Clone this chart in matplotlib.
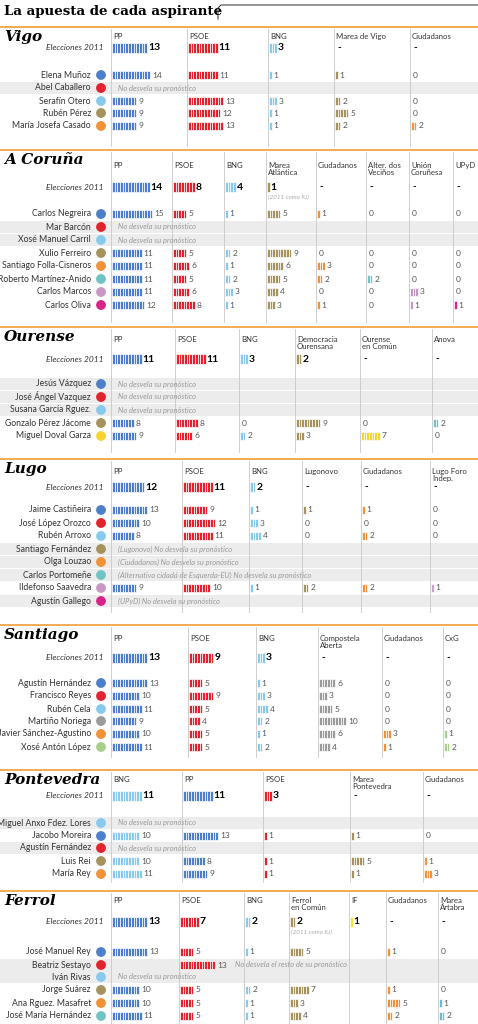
import matplotlib
matplotlib.use("Agg")
import matplotlib.pyplot as plt
from matplotlib.patches import Rectangle, Circle

# ---------------- DATA ----------------
C = dict(pp="#4d7fcc", psoe="#e3222c", bng="#86cbee", marea="#a5925c", cs="#f29237",
         alt="#6fc3c4", uc="#c897c6", upyd="#d9238b", oec="#f7d331", cab="#9b9b9b",
         cxg="#a9cf8c", iff="#f4e33c", mart="#6cb8d8", lfi="#c7a3c9")

vigo_parties = ["PP", "PSOE", "BNG", "Marea de Vigo", "Ciudadanos"]
vigo_colors = ["pp", "psoe", "bng", "marea", "cs"]
vigo_2011 = [13, 11, 3, None, None]
vigo_cands = ["Elena Muñoz", "Abel Caballero", "Serafín Otero", "Rubén Pérez", "María Josefa Casado"]
vigo_icons = ["pp", "psoe", "bng", "marea", "cs"]
vigo_vals = [[14, 11, 1, 1, 0], None, [9, 13, 3, 2, 0], [9, 12, 1, 5, 0], [9, 13, 1, 2, 2]]

cor_parties = ["PP", "PSOE", "BNG", "Marea\nAtlántica", "Ciudadanos", "Alter. dos\nVeciños", "Unión\nCoruñesa", "UPyD"]
cor_colors = ["pp", "psoe", "bng", "marea", "cs", "alt", "uc", "upyd"]
cor_2011 = [14, 8, 4, 1, None, None, None, None]
cor_cands = ["Carlos Negreira", "Mar Barcón", "Xosé Manuel Carril", "Xulio Ferreiro",
             "Santiago Folla-Cisneros", "Roberto Martínez-Anido", "Carlos Marcos", "Carlos Oliva"]
cor_icons = ["pp", "psoe", "bng", "marea", "cs", "alt", "uc", "upyd"]
cor_vals = [[15, 5, 1, 5, 1, 0, 0, 0], None, None, [11, 5, 2, 9, 0, 0, 0, 0],
            [11, 6, 1, 6, 3, 0, 0, 0], [11, 5, 2, 5, 2, 2, 0, 0],
            [11, 6, 3, 4, 0, 0, 3, 0], [12, 8, 1, 3, 1, 0, 1, 1]]

our_parties = ["PP", "PSOE", "BNG", "Democracia\nOurensana", "Ourense\nen Común", "Anova"]
our_colors = ["pp", "psoe", "bng", "marea", "oec", "alt"]
our_2011 = [11, 11, 3, 2, None, None]
our_cands = ["Jesús Vázquez", "José Ángel Vazquez", "Susana García Rguez.", "Gonzalo Pérez Jácome", "Miguel Doval Garza"]
our_icons = ["pp", "psoe", "bng", "marea", "oec"]
our_vals = [None, None, None, [8, 8, 0, 9, 0, 2], [9, 6, 2, 3, 7, 0]]

lugo_parties = ["PP", "PSOE", "BNG", "Lugonovo", "Ciudadanos", "Lugo Foro\nIndep."]
lugo_colors = ["pp", "psoe", "bng", "marea", "cs", "lfi"]
lugo_2011 = [12, 11, 2, None, None, None]
lugo_cands = ["Jaime Castiñeira", "José López Orozco", "Rubén Arroxo", "Santiago Fernández",
              "Olga Louzao", "Carlos Portomeñe", "Ildefonso Saavedra", "Agustín Gallego"]
lugo_icons = ["pp", "psoe", "bng", "marea", "cs", "alt", "uc", "upyd"]
lugo_vals = [[13, 9, 1, 1, 1, 0], [10, 12, 3, 0, 0, 0], [8, 11, 4, 0, 2, 0], None, None, None,
             [9, 10, 1, 2, 2, 1], None]
lugo_notes = {3: "(Lugonovo) No desvela su pronóstico", 4: "(Ciudadanos) No desvela su pronóstico",
              5: "(Alternativa cidadá de Esquerda-EU) No desvela su pronóstico",
              7: "(UPyD) No desvela su pronóstico"}

sant_parties = ["PP", "PSOE", "BNG", "Compostela\nAberta", "Ciudadanos", "CxG"]
sant_colors = ["pp", "psoe", "bng", "cab", "cs", "cxg"]
sant_2011 = [13, 9, 3, None, None, None]
sant_cands = ["Agustín Hernández", "Francisco Reyes", "Rubén Cela", "Martiño Noriega",
              "Javier Sánchez-Agustino", "Xosé Antón López"]
sant_icons = ["pp", "psoe", "bng", "cab", "cs", "cxg"]
sant_vals = [[13, 5, 1, 6, 0, 0], [10, 9, 3, 3, 0, 0], [11, 5, 4, 5, 0, 0],
             [9, 4, 2, 10, 0, 0], [10, 5, 1, 6, 3, 1], [11, 5, 2, 4, 1, 2]]

pont_parties = ["BNG", "PP", "PSOE", "Marea\nPontevedra", "Ciudadanos"]
pont_colors = ["bng", "pp", "psoe", "marea", "cs"]
pont_2011 = [11, 11, 3, None, None]
pont_cands = ["Miguel Anxo Fdez. Lores", "Jacobo Moreira", "Agustín Fernández", "Luis Rei", "María Rey"]
pont_icons = ["bng", "pp", "psoe", "marea", "cs"]
pont_vals = [None, [10, 13, 1, 1, 0], None, [10, 8, 1, 5, 1], [11, 9, 1, 1, 3]]

fer_parties = ["PP", "PSOE", "BNG", "Ferrol\nen Común", "IF", "Ciudadanos", "Marea\nÁrtabra"]
fer_colors = ["pp", "psoe", "bng", "marea", "iff", "cs", "mart"]
fer_2011 = [13, 7, 2, 2, 1, None, None]
fer_cands = ["José Manuel Rey", "Beatriz Sestayo", "Iván Rivas", "Jorge Suárez",
             "Ana Rguez. Masafret", "José María Hernández"]
fer_icons = ["pp", "psoe", "bng", "marea", "cs", "alt"]
fer_vals = [[13, 5, 1, 5, "", 1, 0], ["", 13, "", "", "", "", ""], None,
            [10, 5, 2, 7, "", 1, 0], [10, 5, 1, 3, "", 5, 1], [11, 5, 1, 4, "", 2, 2]]
fer_notes = {1: "No desvela el resto de su pronóstico"}

# ---------------- LAYOUT ----------------
sections = [
    dict(name="Vigo", top=27, bottom=146, head=33, elec=48, rows=[75, 88, 101, 113, 126],
         cols=[111, 187, 268, 334, 410], parties=vigo_parties, colors=vigo_colors, e=vigo_2011,
         cands=vigo_cands, icons=vigo_icons, vals=vigo_vals, notes={}, sub={}),
    dict(name="A Coruña", top=150, bottom=322, head=162, elec=187,
         rows=[214, 227, 240, 253, 266, 279, 292, 305],
         cols=[111, 172, 224, 266, 316, 366, 409, 453], parties=cor_parties, colors=cor_colors,
         e=cor_2011, cands=cor_cands, icons=cor_icons, vals=cor_vals, notes={}, sub={3: "(2011 como IU)"}),
    dict(name="Ourense", top=327, bottom=452, head=336, elec=359, rows=[384, 397, 410, 423, 436],
         cols=[111, 175, 239, 295, 360, 432], parties=our_parties, colors=our_colors, e=our_2011,
         cands=our_cands, icons=our_icons, vals=our_vals, notes={}, sub={}),
    dict(name="Lugo", top=459, bottom=612, head=468, elec=487,
         rows=[510, 523, 536, 549, 562, 575, 588, 601],
         cols=[111, 182, 249, 302, 361, 430], parties=lugo_parties, colors=lugo_colors, e=lugo_2011,
         cands=lugo_cands, icons=lugo_icons, vals=lugo_vals, notes=lugo_notes, sub={}),
    dict(name="Santiago", top=625, bottom=757, head=635, elec=658, rows=[683, 696, 709, 721, 734, 747],
         cols=[111, 188, 256, 318, 382, 443], parties=sant_parties, colors=sant_colors, e=sant_2011,
         cands=sant_cands, icons=sant_icons, vals=sant_vals, notes={}, sub={}),
    dict(name="Pontevedra", top=770, bottom=882, head=776, elec=796, rows=[823, 836, 848, 861, 874],
         cols=[111, 182, 263, 350, 423], parties=pont_parties, colors=pont_colors, e=pont_2011,
         cands=pont_cands, icons=pont_icons, vals=pont_vals, notes={}, sub={}),
    dict(name="Ferrol", top=891, bottom=1024, head=897, elec=922, rows=[952, 965, 977, 990, 1003, 1016],
         cols=[111, 179, 244, 289, 349, 386, 438], parties=fer_parties, colors=fer_colors, e=fer_2011,
         cands=fer_cands, icons=fer_icons, vals=fer_vals, notes=fer_notes, sub={3: "(2011 como IU)"}),
]

UNIT = 2.7
FONT = "Lato"
fig = plt.figure(figsize=(4.78, 10.24), dpi=100)
ax = fig.add_axes([0, 0, 1, 1])
ax.set_xlim(0, 478)
ax.set_ylim(1024, 0)
ax.axis("off")

ax.text(4, 12, "La apuesta de cada aspirante", fontsize=9.6, fontweight="bold",
        family="DejaVu Serif", va="center", ha="left")
ax.plot([218, 218, 221, 478], [19, 8, 5, 5], color="#444444", lw=0.8)


def seats(x, y, v, color, h):
    ax.barh([y] * v, [UNIT] * v, left=[x + i * UNIT for i in range(v)], height=h,
            color=color, edgecolor="white", linewidth=0.5)


for s in sections:
    ax.plot([0, 478], [s["top"], s["top"]], color="#f2a446", lw=1.3)
    ax.text(4, s["top"] + 10, s["name"], fontsize=11, fontweight="bold", style="italic",
            family="DejaVu Serif", va="center", ha="left")
    cols = s["cols"]
    for j, cx in enumerate(cols):
        ax.plot([cx, cx], [s["top"] + 2, s["bottom"]], color="#c8c8c8", lw=0.6, zorder=0.5)
        ax.text(cx + 2, s["head"], s["parties"][j], fontsize=5.6, family=FONT, color="#333333",
                va="top", ha="left", linespacing=0.95)
    ax.text(104, s["elec"], "Elecciones 2011", fontsize=6, style="italic", family=FONT,
            color="#333333", va="center", ha="right")
    for j, cx in enumerate(cols):
        v = s["e"][j]
        col = C[s["colors"][j]]
        if v is None:
            ax.text(cx + 3, s["elec"], "-", fontsize=7, fontweight="bold", va="center", family=FONT)
        else:
            seats(cx + 1, s["elec"], v, col, 10)
            ax.text(cx + 2 + v * UNIT, s["elec"], str(v), fontsize=7.5, fontweight="bold",
                    va="center", family=FONT)
        if j in s["sub"]:
            ax.text(cx + 2, s["elec"] + 10, s["sub"][j], fontsize=4.5, style="italic",
                    color="#aaaaaa", va="center", family=FONT)
    for i, (name, y) in enumerate(zip(s["cands"], s["rows"])):
        vals = s["vals"][i]
        ax.text(91, y, name, fontsize=6.2, family=FONT, color="#333333", va="center", ha="right")
        ax.add_patch(Circle((101, y), 4.2, color=C[s["icons"][i]], zorder=3))
        if vals is None or i in s["notes"]:
            ax.add_patch(Rectangle((0, y - 6), 478, 12, color="#ececec", zorder=0.2, lw=0))
        if vals is None:
            txt = s["notes"].get(i, "No desvela su pronóstico")
            ax.text(118, y, txt, fontsize=5.4, style="italic", color="#999999", va="center",
                    family=FONT, zorder=2)
            continue
        for j, cx in enumerate(cols):
            v = vals[j]
            if v == "":
                continue
            if v > 0:
                seats(cx + 1, y, v, C[s["colors"][j]], 8)
            ax.text(cx + 3 + v * UNIT, y, str(v), fontsize=6, color="#555555", va="center", family=FONT)
        if i in s["notes"]:
            ax.text(235, y, s["notes"][i], fontsize=5.4, style="italic", color="#999999",
                    va="center", family=FONT, zorder=2)

fig.savefig("out.png", dpi=100)
